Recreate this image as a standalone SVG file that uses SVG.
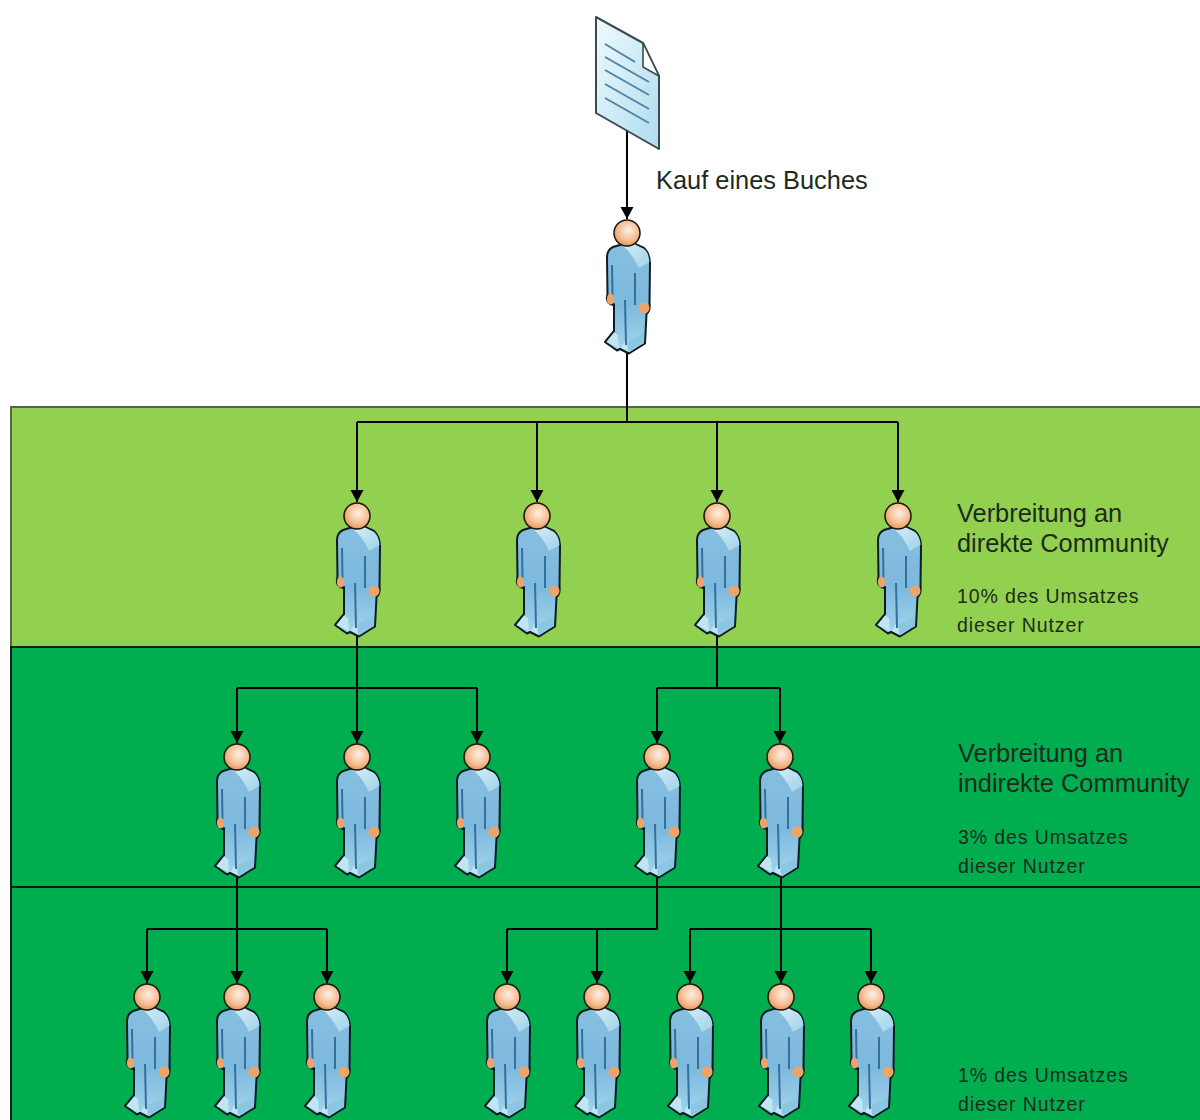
<svg xmlns="http://www.w3.org/2000/svg" xmlns:xlink="http://www.w3.org/1999/xlink" width="1200" height="1120" viewBox="0 0 1200 1120">
<style>
.band{stroke:#101f10;stroke-width:2}
.c{fill:none;stroke:#000;stroke-width:2}
.a{marker-end:url(#arrow)}
text{font-family:"Liberation Sans",Arial,sans-serif;fill:#1d2a1d}
.l{font-size:25.4px}
.s{font-size:19.5px;letter-spacing:.9px}
</style>
<defs>
<marker id="arrow" markerUnits="userSpaceOnUse" markerWidth="14" markerHeight="14" refX="12" refY="7" orient="auto"><path d="M0 .5L12 7L0 13.5Z" fill="#000"/></marker>
<filter id="soft" x="-10%" y="-10%" width="120%" height="120%"><feGaussianBlur stdDeviation="0.45"/></filter>
<linearGradient id="body" x1="0" y1="0" x2="0" y2="1"><stop offset="0" stop-color="#86bfdf"/><stop offset="0.55" stop-color="#7db9de"/><stop offset="1" stop-color="#a4d6ec"/></linearGradient>
<linearGradient id="hi" x1="0" y1="0" x2="1" y2="1"><stop offset="0" stop-color="#d6eef6"/><stop offset="1" stop-color="#9fd2e8"/></linearGradient>
<radialGradient id="head" cx="0.55" cy="0.4" r="0.65"><stop offset="0" stop-color="#fdf0e6"/><stop offset="0.6" stop-color="#f5bd90"/><stop offset="1" stop-color="#e0914f"/></radialGradient>
<linearGradient id="paper" x1="0" y1="0" x2="1" y2="1"><stop offset="0" stop-color="#f0fafd"/><stop offset="1" stop-color="#aedcee"/></linearGradient>
<g id="p" filter="url(#soft)">
<path d="M-4 11L-14 14Q-20 17-20 24L-19.5 61Q-21 66-19 69Q-16 73-13 71L-13 98L-22 109L-10 117.5L-7 116L2 120.5L18 110.5L19.5 81Q23.5 78 22.5 70L23 30Q22.5 20 17 15L6 10Z" fill="url(#body)" stroke="#0b1a24" stroke-width="2" stroke-linejoin="round"/>
<path d="M-5 12L6 10.5L17 16Q22 20 22.5 29L12 35Q6 21-5 12Z" fill="url(#hi)"/>
<path d="M-20.5 109L-13 99.5L-9 102L-8 115Z" fill="#c0e6f2"/>
<path d="M-6 114.5L-1 106L1 118.5Z" fill="#c0e6f2"/>
<path d="M1 118.5L1 108L17 100L17 110Z" fill="#8cc7e2"/>
<path d="M-15 32L-14.5 62M8 40L8 72M-2 67L-1 112" fill="none" stroke="#33709e" stroke-width="2"/>
<ellipse cx="-16.5" cy="66" rx="3.6" ry="5.5" fill="#eda468"/>
<ellipse cx="17" cy="75" rx="5.5" ry="5.5" fill="#eda468"/>
<path d="M-5 11.5Q0 15 6 11L0 10Z" fill="#e2734a"/>
<circle r="13" fill="url(#head)" stroke="#1a1410" stroke-width="1.5"/>
</g>
</defs>
<rect width="1200" height="1120" fill="#fff"/>
<g id="bands">
<rect class="band" style="stroke:#55654a" x="11" y="407" width="1195" height="240" fill="#92d050"/>
<rect class="band" x="11" y="647" width="1195" height="240" fill="#00ae4f"/>
<rect class="band" x="11" y="887" width="1195" height="240" fill="#00ae4f"/>
</g>
<g id="connectors">
<path class="c a" d="M627 130V219"/>
<path class="c" d="M627 350V422M357 422H898"/>
<path class="c a" d="M357 422V502"/><path class="c a" d="M537 422V502"/><path class="c a" d="M717 422V502"/><path class="c a" d="M898 422V502"/>
<path class="c" d="M237 688H477M717 634V688M657 688H780"/>
<path class="c a" d="M237 688V743"/><path class="c a" d="M357 634V743"/><path class="c a" d="M477 688V743"/><path class="c a" d="M657 688V743"/><path class="c a" d="M780 688V743"/>
<path class="c" d="M147 929H327M657 875V929H507M690 929H871"/>
<path class="c a" d="M147 929V983"/><path class="c a" d="M237 875V983"/><path class="c a" d="M327 929V983"/><path class="c a" d="M507 929V983"/><path class="c a" d="M597 929V983"/><path class="c a" d="M690 929V983"/><path class="c a" d="M781 875V983"/><path class="c a" d="M871 929V983"/>
</g>
<g id="document" filter="url(#soft)">
<path d="M596 17L643 43L659 76V149L596 113Z" fill="url(#paper)" stroke="#3b4a52" stroke-width="2" stroke-linejoin="round"/>
<path d="M643 43L659 76L643 67Z" fill="#fff" stroke="#3b4a52" stroke-width="1.6" stroke-linejoin="round"/>
<path d="M605 44L635 62M605 57L649 82M605 70L649 95M605 84L649 109M605 98L649 123" stroke="#4f84a8" stroke-width="2" fill="none"/>
</g>
<use id="person-buyer" xlink:href="#p" href="#p" x="627" y="233"/>
<g id="persons-direct">
<use href="#p" x="357" y="516"/><use href="#p" x="537" y="516"/><use href="#p" x="717" y="516"/><use href="#p" x="898" y="516"/>
</g>
<g id="persons-indirect">
<use href="#p" x="237" y="757"/><use href="#p" x="357" y="757"/><use href="#p" x="477" y="757"/><use href="#p" x="657" y="757"/><use href="#p" x="780" y="757"/>
</g>
<g id="persons-third">
<use href="#p" x="147" y="997"/><use href="#p" x="237" y="997"/><use href="#p" x="327" y="997"/><use href="#p" x="507" y="997"/><use href="#p" x="597" y="997"/><use href="#p" x="690" y="997"/><use href="#p" x="781" y="997"/><use href="#p" x="871" y="997"/>
</g>
<g id="labels">
<text class="l" x="656" y="189">Kauf eines Buches</text>
<text class="l" x="957" y="522">Verbreitung an</text>
<text class="l" x="957" y="552">direkte Community</text>
<text class="s" x="957" y="603">10% des Umsatzes</text>
<text class="s" x="957" y="632">dieser Nutzer</text>
<text class="l" x="958" y="762">Verbreitung an</text>
<text class="l" x="958" y="792">indirekte Community</text>
<text class="s" x="958" y="844">3% des Umsatzes</text>
<text class="s" x="958" y="873">dieser Nutzer</text>
<text class="s" x="958" y="1082">1% des Umsatzes</text>
<text class="s" x="958" y="1111">dieser Nutzer</text>
</g>
</svg>
